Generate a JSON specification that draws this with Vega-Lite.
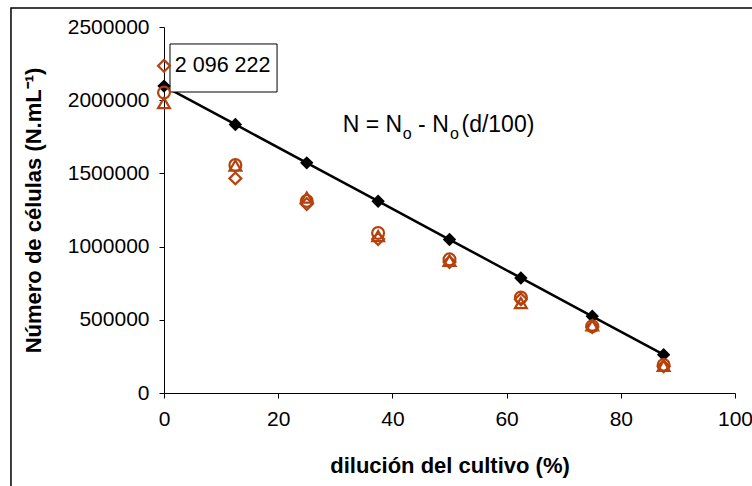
{
  "$schema": "https://vega.github.io/schema/vega-lite/v6.json",
  "autosize": {"type": "none"},
  "width": 571,
  "height": 366,
  "padding": {"left": 164, "top": 27, "right": 17, "bottom": 93},
  "background": "white",
  "config": {
    "view": {"stroke": null},
    "font": "Liberation Sans",
    "axis": {
      "labelFont": "Liberation Sans",
      "labelFontSize": 21,
      "labelColor": "black",
      "domainColor": "black",
      "domainWidth": 1,
      "tickColor": "black",
      "tickSize": 5,
      "tickWidth": 1,
      "grid": false,
      "titleFont": "Liberation Sans",
      "titleFontSize": 22,
      "titleFontWeight": "bold",
      "titleColor": "black"
    }
  },
  "datasets": {
    "frame": [{"d": -26.8, "d2": 120, "n": 2630000, "n2": -900000}],
    "box": [{"d": 1.05, "d2": 19.8, "n": 2384000, "n2": 2056000}],
    "label": [{"d": 1.9, "n": 2234000, "t": "2 096 222"}],
    "eqmain": [
      {"d": 31.3, "n": 1830000, "t": "N = N"},
      {"d": 44.5, "n": 1830000, "t": "- N"},
      {"d": 52.1, "n": 1830000, "t": "(d/100)"}
    ],
    "eqsub": [
      {"d": 41.8, "n": 1768000, "t": "o"},
      {"d": 50.1, "n": 1768000, "t": "o"}
    ],
    "theo": [
      {"d": 0, "n": 2096222},
      {"d": 12.5, "n": 1834194},
      {"d": 25, "n": 1572167},
      {"d": 37.5, "n": 1310139},
      {"d": 50, "n": 1048111},
      {"d": 62.5, "n": 786083},
      {"d": 75, "n": 524056},
      {"d": 87.5, "n": 262028}
    ],
    "obs": [
      {"d": 0, "n": 2235000, "s": "A"},
      {"d": 0, "n": 2052000, "s": "B"},
      {"d": 0, "n": 1981000, "s": "C"},
      {"d": 12.5, "n": 1466000, "s": "A"},
      {"d": 12.5, "n": 1557000, "s": "B"},
      {"d": 12.5, "n": 1553000, "s": "C"},
      {"d": 25, "n": 1291000, "s": "A"},
      {"d": 25, "n": 1312000, "s": "B"},
      {"d": 25, "n": 1335000, "s": "C"},
      {"d": 37.5, "n": 1052000, "s": "A"},
      {"d": 37.5, "n": 1093000, "s": "B"},
      {"d": 37.5, "n": 1072000, "s": "C"},
      {"d": 50, "n": 895000, "s": "A"},
      {"d": 50, "n": 913000, "s": "B"},
      {"d": 50, "n": 904000, "s": "C"},
      {"d": 62.5, "n": 640000, "s": "A"},
      {"d": 62.5, "n": 652000, "s": "B"},
      {"d": 62.5, "n": 615000, "s": "C"},
      {"d": 75, "n": 451000, "s": "A"},
      {"d": 75, "n": 456000, "s": "B"},
      {"d": 75, "n": 462000, "s": "C"},
      {"d": 87.5, "n": 182000, "s": "A"},
      {"d": 87.5, "n": 191000, "s": "B"},
      {"d": 87.5, "n": 186000, "s": "C"}
    ]
  },
  "encoding": {
    "x": {
      "field": "d", "type": "quantitative",
      "scale": {"domain": [0, 100], "nice": false, "zero": false},
      "axis": {"values": [0, 20, 40, 60, 80, 100], "title": "dilución del cultivo (%)", "labelPadding": 10, "titlePadding": 26, "labelFlush": false, "labelOverlap": false}
    },
    "y": {
      "field": "n", "type": "quantitative",
      "scale": {"domain": [0, 2500000], "nice": false, "zero": false},
      "axis": {"values": [0, 500000, 1000000, 1500000, 2000000, 2500000], "format": "d", "title": "Número de células (N.mL⁻¹)", "labelPadding": 10, "titlePadding": 22, "labelFlush": false, "labelOverlap": false}
    }
  },
  "layer": [
    {
      "data": {"name": "frame"},
      "mark": {"type": "rect", "fill": null, "fillOpacity": 0, "stroke": "black", "strokeWidth": 1.5, "clip": false},
      "encoding": {"x2": {"field": "d2"}, "y2": {"field": "n2"}}
    },
    {
      "data": {"name": "theo"},
      "mark": {"type": "line", "color": "black", "strokeWidth": 2.5},
      "encoding": {}
    },
    {
      "data": {"name": "box"},
      "mark": {"type": "rect", "fill": "white", "stroke": "black", "strokeWidth": 1},
      "encoding": {"x2": {"field": "d2"}, "y2": {"field": "n2"}}
    },
    {
      "data": {"name": "theo"},
      "mark": {"type": "point", "shape": "diamond", "filled": true, "size": 180, "color": "black", "opacity": 1}
    },
    {
      "data": {"name": "obs"},
      "mark": {"type": "point", "filled": false, "size": 140, "strokeWidth": 2.2, "color": "#B5420C", "opacity": 1},
      "encoding": {
        "shape": {"field": "s", "type": "nominal", "scale": {"domain": ["A", "B", "C"], "range": ["diamond", "circle", "triangle-up"]}, "legend": null}
      }
    },
    {
      "data": {"name": "label"},
      "mark": {"type": "text", "align": "left", "baseline": "middle", "fontSize": 21.5, "font": "Liberation Sans", "color": "black"},
      "encoding": {"text": {"field": "t"}}
    },
    {
      "data": {"name": "eqmain"},
      "mark": {"type": "text", "align": "left", "baseline": "middle", "fontSize": 23, "font": "Liberation Sans", "color": "black"},
      "encoding": {"text": {"field": "t"}}
    },
    {
      "data": {"name": "eqsub"},
      "mark": {"type": "text", "align": "left", "baseline": "middle", "fontSize": 16, "font": "Liberation Sans", "color": "black"},
      "encoding": {"text": {"field": "t"}}
    }
  ]
}
